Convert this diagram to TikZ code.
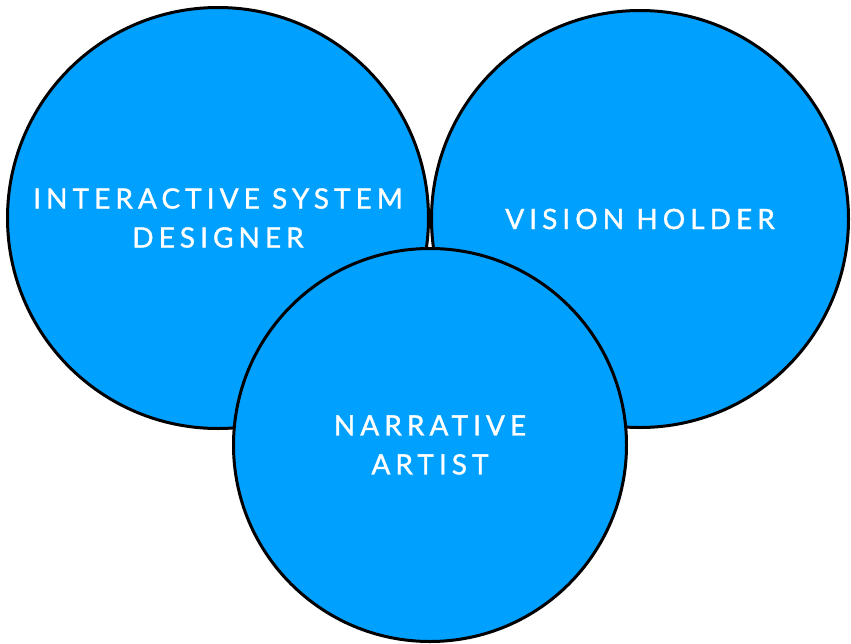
\documentclass[tikz,border=0pt]{standalone}
\usepackage{fontspec}
\setmainfont[LetterSpace=18,FakeBold=1.2]{Lato}
\definecolor{roleblue}{RGB}{0,160,255}
\tikzset{
  role/.style={circle, draw=black, fill=roleblue, line width=3pt, inner sep=0pt,
    text=white, align=center, font=\fontsize{28}{39}\selectfont},
}

\begin{document}
\begin{tikzpicture}[x=1pt, y=-1pt]
  \useasboundingbox (0,0) rectangle (851,643);
  % Three roles
  \node[role, minimum size=421pt] (isd) at (218,218) {INTERACTIVE SYSTEM\\DESIGNER};
  \node[role, minimum size=417pt] (vh) at (640,219) {VISION HOLDER};
  \node[role, minimum size=393pt] (na) at (430,445) {NARRATIVE\\ARTIST};
\end{tikzpicture}
\end{document}
